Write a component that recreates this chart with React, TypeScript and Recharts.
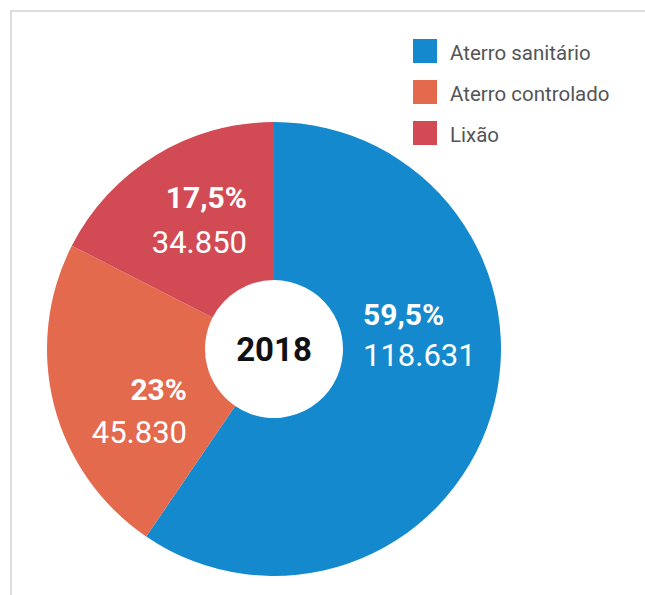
import { PieChart, Pie, Cell } from "recharts";

const categories = ["Aterro sanitário", "Aterro controlado", "Lixão"];
const tonnes = [118631, 45830, 34850];
const shareLabels = ["59,5%", "23%", "17,5%"];
const valueLabels = ["118.631", "45.830", "34.850"];
const yearLabel = "2018";

const COLORS = ["#1589ce", "#e36a4d", "#d24a54"];

const FONT = "Roboto, 'Noto Sans', sans-serif";

// where each slice's two text lines sit, relative to the pie centre
const LABEL_LAYOUT = [
  { dx: 89, dy1: -24, dy2: 17, anchor: "start" },
  { dx: -87, dy1: 51, dy2: 94, anchor: "end" },
  { dx: -27, dy1: -141, dy2: -96, anchor: "end" },
];

const data = categories.map((name, i) => ({
  name,
  value: tonnes[i],
  share: shareLabels[i],
  amount: valueLabels[i],
}));

function SliceLabel(props: any) {
  const { index, cx, cy } = props;
  const l = LABEL_LAYOUT[index];
  const d = data[index];
  return (
    <g fontFamily={FONT}>
      <text x={cx + l.dx} y={cy + l.dy1} textAnchor={l.anchor} fontSize={30} fontWeight={700} fill="#fff">
        {d.share}
      </text>
      <text x={cx + l.dx} y={cy + l.dy2} textAnchor={l.anchor} fontSize={31} fill="#fff">
        {d.amount}
      </text>
      {index === 0 && (
        <text x={cx} y={cy + 12} textAnchor="middle" fontSize={33} fontWeight={700} fill="#111">
          {yearLabel}
        </text>
      )}
    </g>
  );
}

function LegendList() {
  return (
    <div style={{ position: "absolute", left: 413, top: 30, fontFamily: FONT }}>
      {data.map((d, i) => (
        <div key={d.name} style={{ display: "flex", alignItems: "center", height: 41 }}>
          <span
            style={{ width: 24, height: 24, background: COLORS[i], display: "inline-block", marginRight: 13 }}
          />
          <span style={{ fontSize: 20.5, color: "#555", position: "relative", top: 2 }}>{d.name}</span>
        </div>
      ))}
    </div>
  );
}

export default function App() {
  return (
    <div style={{ position: "absolute", left: 0, top: 0, width: 645, height: 595, background: "#fff" }}>
      <div
        style={{
          position: "absolute",
          left: 10,
          top: 10,
          right: 0,
          bottom: 0,
          borderTop: "2px solid #dddddd",
          borderLeft: "2px solid #dddddd",
        }}
      />
      <PieChart
        width={645}
        height={595}
        margin={{ top: 0, right: 0, bottom: 0, left: 0 }}
        style={{ position: "absolute", left: 0, top: 0 }}
      >
        <Pie
          data={data}
          dataKey="value"
          nameKey="name"
          cx={274}
          cy={349}
          innerRadius={69}
          outerRadius={227}
          startAngle={90}
          endAngle={-270}
          stroke="none"
          label={SliceLabel}
          labelLine={false}
          isAnimationActive={false}
        >
          {data.map((d, i) => (
            <Cell key={d.name} fill={COLORS[i]} />
          ))}
        </Pie>
      </PieChart>
      <LegendList />
    </div>
  );
}
